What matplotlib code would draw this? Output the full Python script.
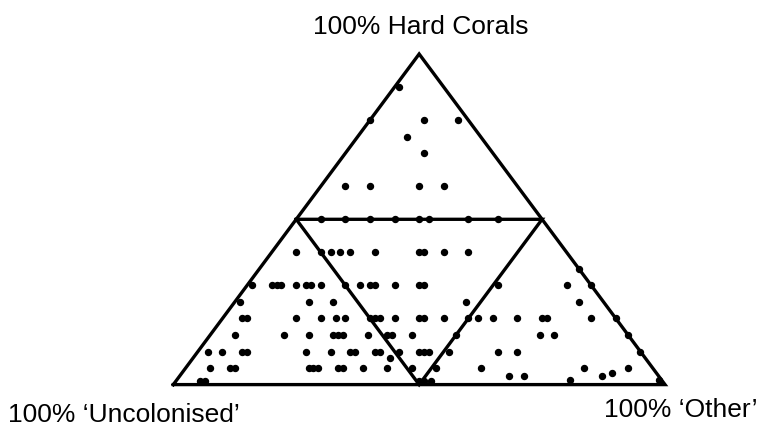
import matplotlib

matplotlib.use("Agg")
import matplotlib.pyplot as plt
import numpy

plt.rcParams["font.family"] = ["Liberation Sans", "DejaVu Sans"]

# Sample composition (percent cover); uncolonised = 100 - hard - other.
# One line per hard coral level.
hard_coral = (
    [90]
    + [80] * 3
    + [75]
    + [70]
    + [60] * 4
    + [50] * 8
    + [40] * 10
    + [35]
    + [30] * 18
    + [25] * 5
    + [20] * 21
    + [15] * 14
    + [10] * 18
    + [8]
    + [5] * 15
    + [3.5]
    + [2.5] * 3
    + [1.5] * 2
    + [1] * 5
)
other = (
    [1]
    + [0, 11, 18]
    + [10]
    + [16]
    + [5, 10, 20, 25]
    + [5, 10, 15, 20, 25, 27, 35, 41]
    + [5, 10, 12, 14, 16, 21, 30, 31, 35, 40]
    + [65]
    + [1, 5, 6, 7, 10, 12, 13, 15, 20, 23, 25, 26, 30, 35, 36, 51, 65, 70]
    + [1, 15, 20, 47, 70]
    + [4, 5, 15, 20, 23, 25, 30, 31, 32, 35, 40, 41, 45, 50, 52, 55, 60, 65, 66, 75, 80]
    + [5, 15, 20, 25, 26, 27, 32, 36, 37, 41, 50, 67, 70, 85]
    + [2, 5, 9, 10, 22, 27, 31, 32, 36, 37, 41, 45, 46, 47, 51, 61, 65, 90]
    + [40]
    + [5, 9, 10, 25, 26, 27, 31, 32, 36, 41, 46, 51, 60, 81, 90]
    + [87.5]
    + [67, 70, 86]
    + [80, 98]
    + [5, 6, 49.5, 50.5, 52]
)

corner_labels = ["100% Hard Corals", "100% \u2018Uncolonised\u2019", "100% \u2018Other\u2019"]


def to_xy(hard, oth):
    """Ternary (hard, other) percentages to plane coordinates."""
    hard = numpy.asarray(hard, dtype=float)
    oth = numpy.asarray(oth, dtype=float)
    return oth + hard / 2.0, hard


fig = plt.figure(figsize=(7.63, 4.35), dpi=100, facecolor="white")
ax = fig.add_axes([173.3 / 763, 49.4 / 435, 491.7 / 763, 330.6 / 435])
ax.set_xlim(0, 100)
ax.set_ylim(0, 100)
ax.axis("off")

line_kws = {"color": "black", "linewidth": 2.4, "solid_joinstyle": "miter", "clip_on": False}

# Outer triangle
tx, ty = to_xy([0, 0, 100, 0], [0, 100, 0, 0])
ax.plot(tx, ty, **line_kws)

# Inner triangle joining the side midpoints
mx, my = to_xy([50, 0, 50, 50], [0, 50, 50, 0])
ax.plot(mx, my, **line_kws)

# Samples
px, py = to_xy(hard_coral, other)
ax.plot(px, py, linestyle="none", marker="o", markersize=4.3,
        color="black", clip_on=False, zorder=3)

label_kws = {"va": "baseline", "fontsize": 19}
fig.text(421 / 763, 1 - 34 / 435, corner_labels[0], ha="center", **label_kws)
fig.text(8 / 763, 1 - 422 / 435, corner_labels[1], ha="left", **label_kws)
fig.text(757 / 763, 1 - 417 / 435, corner_labels[2], ha="right", **label_kws)

fig.savefig("out.png", dpi=100, facecolor="white")
